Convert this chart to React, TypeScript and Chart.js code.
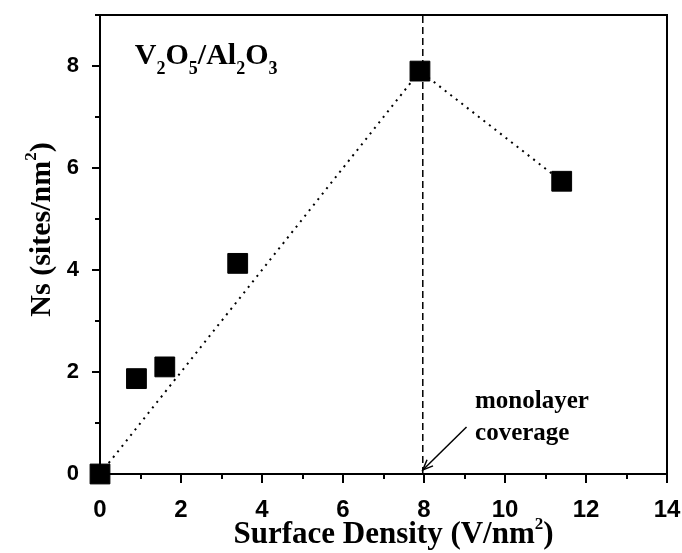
import React, { useEffect, useRef } from "react";
import { Chart, registerables } from "chart.js";

Chart.register(...registerables);

// ---- Data ----
const surfaceDensity = [0, 0.9, 1.6, 3.4, 7.9, 11.4];
const nsSites = [0, 1.87, 2.1, 4.13, 7.9, 5.74];
const trendDensity = [0, 7.9, 11.4];
const trendNs = [0, 7.9, 5.74];
const monolayerDensity = [7.97, 7.97];
const monolayerNs = [0, 9];
const xTickValues = [0, 1, 2, 3, 4, 5, 6, 7, 8, 9, 10, 11, 12, 13, 14];
const xTickLabels = ["0", "", "2", "", "4", "", "6", "", "8", "", "10", "", "12", "", "14"];
const yTickValues = [0, 1, 2, 3, 4, 5, 6, 7, 8, 9];
const yTickLabels = ["0", "", "2", "", "4", "", "6", "", "8", ""];
const arrowFrom = { x: 9.05, y: 0.92 };
const arrowTo = { x: 7.97, y: 0.08 };
const noteLines = ["monolayer", "coverage"];
const notePos = [
  { x: 9.26, y: 1.29 },
  { x: 9.26, y: 0.66 },
];
const insetPos = { x: 0.86, y: 8.03 };

type Part = { t: string; size: number; dy: number };

const SERIF = '"Liberation Serif", "Times New Roman", serif';

function drawRich(ctx: CanvasRenderingContext2D, parts: Part[], x: number, y: number, align: "left" | "center") {
  let total = 0;
  for (const p of parts) {
    ctx.font = `bold ${p.size}px ${SERIF}`;
    total += ctx.measureText(p.t).width;
  }
  let cx = align === "center" ? x - total / 2 : x;
  ctx.textAlign = "left";
  ctx.textBaseline = "alphabetic";
  for (const p of parts) {
    ctx.font = `bold ${p.size}px ${SERIF}`;
    ctx.fillText(p.t, cx, y + p.dy);
    cx += ctx.measureText(p.t).width;
  }
}

const zeroPad = (s: any) => {
  s.paddingLeft = 0;
  s.paddingRight = 0;
  s.paddingTop = 0;
  s.paddingBottom = 0;
};

const decorPlugin = {
  id: "decor",
  beforeDatasetsDraw(chart: any) {
    const { ctx, chartArea } = chart;
    const xs = chart.scales.x;
    const ys = chart.scales.y;
    ctx.save();
    ctx.strokeStyle = "#000";
    ctx.lineWidth = 2;
    ctx.strokeRect(chartArea.left, chartArea.top, chartArea.right - chartArea.left, chartArea.bottom - chartArea.top);
    ctx.lineWidth = 2;
    xTickValues.forEach((v, i) => {
      const px = Math.round(xs.getPixelForValue(v));
      const len = xTickLabels[i] ? 9 : 5;
      ctx.beginPath();
      ctx.moveTo(px, chartArea.bottom);
      ctx.lineTo(px, chartArea.bottom + len);
      ctx.stroke();
    });
    yTickValues.forEach((v, i) => {
      const py = Math.round(ys.getPixelForValue(v));
      const len = yTickLabels[i] ? 8 : 5;
      ctx.beginPath();
      ctx.moveTo(chartArea.left, py);
      ctx.lineTo(chartArea.left - len, py);
      ctx.stroke();
    });
    ctx.restore();
  },
  afterDatasetsDraw(chart: any) {
    const { ctx, chartArea } = chart;
    const xs = chart.scales.x;
    const ys = chart.scales.y;
    ctx.save();
    ctx.fillStyle = "#000";
    ctx.strokeStyle = "#000";

    // arrow
    const x1 = xs.getPixelForValue(arrowFrom.x);
    const y1 = ys.getPixelForValue(arrowFrom.y);
    const x2 = xs.getPixelForValue(arrowTo.x);
    const y2 = ys.getPixelForValue(arrowTo.y);
    ctx.lineWidth = 1.5;
    ctx.beginPath();
    ctx.moveTo(x1, y1);
    ctx.lineTo(x2, y2);
    ctx.stroke();
    const ang = Math.atan2(y2 - y1, x2 - x1);
    const hl = 11;
    ctx.beginPath();
    ctx.moveTo(x2 - hl * Math.cos(ang - 0.4), y2 - hl * Math.sin(ang - 0.4));
    ctx.lineTo(x2, y2);
    ctx.lineTo(x2 - hl * Math.cos(ang + 0.4), y2 - hl * Math.sin(ang + 0.4));
    ctx.stroke();

    // note text
    noteLines.forEach((t, i) => {
      drawRich(ctx, [{ t, size: 25, dy: 0 }], xs.getPixelForValue(notePos[i].x), ys.getPixelForValue(notePos[i].y), "left");
    });

    // inset label V2O5/Al2O3
    const M = 30, S = 18, D = 10;
    drawRich(
      ctx,
      [
        { t: "V", size: M, dy: 0 },
        { t: "2", size: S, dy: D },
        { t: "O", size: M, dy: 0 },
        { t: "5", size: S, dy: D },
        { t: "/Al", size: M, dy: 0 },
        { t: "2", size: S, dy: D },
        { t: "O", size: M, dy: 0 },
        { t: "3", size: S, dy: D },
      ],
      xs.getPixelForValue(insetPos.x),
      ys.getPixelForValue(insetPos.y),
      "left"
    );

    // axis titles
    const cxMid = (chartArea.left + chartArea.right) / 2 + 10;
    drawRich(
      ctx,
      [
        { t: "Surface Density (V/nm", size: 31, dy: 0 },
        { t: "2", size: 17, dy: -14 },
        { t: ")", size: 31, dy: 0 },
      ],
      cxMid,
      543,
      "center"
    );
    ctx.save();
    ctx.translate(50, (chartArea.top + chartArea.bottom) / 2 - 15);
    ctx.rotate(-Math.PI / 2);
    drawRich(
      ctx,
      [
        { t: "Ns (sites/nm", size: 30, dy: 0 },
        { t: "2", size: 17, dy: -14 },
        { t: ")", size: 30, dy: 0 },
      ],
      0,
      0,
      "center"
    );
    ctx.restore();
    ctx.restore();
  },
};

export default function App() {
  const ref = useRef<HTMLCanvasElement | null>(null);
  useEffect(() => {
    if (!ref.current) return;
    const sans = '"Liberation Sans", Arial, sans-serif';
    const chart = new Chart(ref.current, {
      type: "scatter",
      data: {
        datasets: [
          {
            data: trendDensity.map((x, i) => ({ x, y: trendNs[i] })),
            showLine: true,
            borderColor: "#000",
            borderWidth: 2,
            borderDash: [2, 5],
            pointRadius: 0,
            clip: false as any,
          },
          {
            data: monolayerDensity.map((x, i) => ({ x, y: monolayerNs[i] })),
            showLine: true,
            borderColor: "#000",
            borderWidth: 1.5,
            borderDash: [7, 4],
            pointRadius: 0,
          },
          {
            data: surfaceDensity.map((x, i) => ({ x, y: nsSites[i] })),
            showLine: false,
            pointStyle: "rect",
            pointRadius: 14,
            backgroundColor: "#000",
            borderColor: "#000",
            borderWidth: 1,
            clip: false as any,
          },
        ],
      },
      options: {
        animation: false,
        responsive: false,
        devicePixelRatio: 1,
        layout: { padding: { top: 13, right: 15, left: 0, bottom: 0 } },
        plugins: { legend: { display: false }, tooltip: { enabled: false } },
        scales: {
          x: {
            type: "linear",
            min: 0,
            max: 14,
            grid: { display: false },
            border: { display: false },
            afterBuildTicks: (s: any) => {
              s.ticks = xTickValues.map((v) => ({ value: v }));
            },
            afterFit: (s: any) => {
              s.height = 79;
              zeroPad(s);
            },
            ticks: {
              autoSkip: false,
              maxRotation: 0,
              color: "#000",
              font: { family: sans, size: 24, weight: "bold" as const },
              padding: 14,
              callback: (_v: any, i: number) => xTickLabels[i],
            },
          },
          y: {
            type: "linear",
            min: 0,
            max: 9,
            grid: { display: false },
            border: { display: false },
            afterBuildTicks: (s: any) => {
              s.ticks = yTickValues.map((v) => ({ value: v }));
            },
            afterFit: (s: any) => {
              s.width = 100;
              zeroPad(s);
            },
            ticks: {
              autoSkip: false,
              color: "#000",
              font: { family: sans, size: 22, weight: "bold" as const },
              padding: 13,
              callback: (_v: any, i: number) => yTickLabels[i],
            },
          },
        },
      },
      plugins: [decorPlugin],
    });
    return () => chart.destroy();
  }, []);
  return (
    <div style={{ position: "fixed", left: 0, top: 0, width: 682, height: 553, background: "#fff" }}>
      <canvas ref={ref} width={682} height={553} style={{ display: "block" }} />
    </div>
  );
}
